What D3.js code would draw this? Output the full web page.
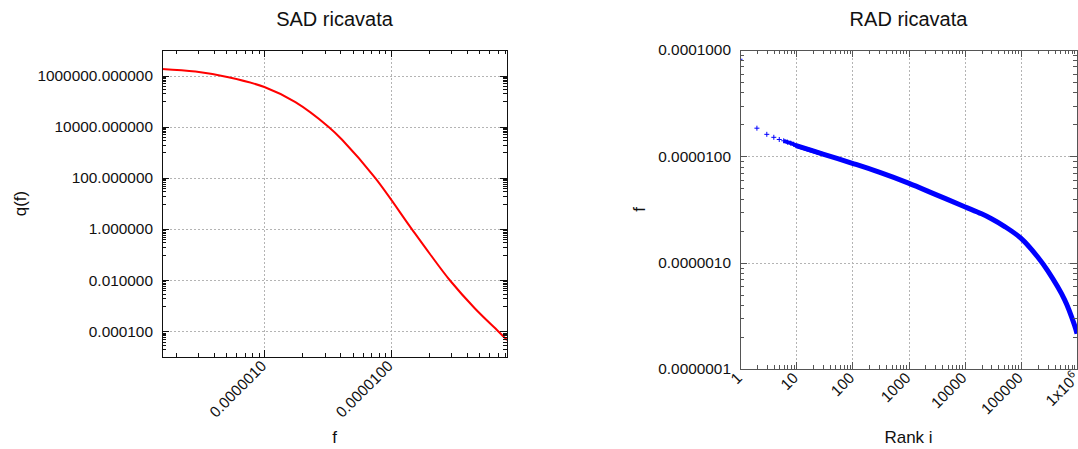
<!DOCTYPE html>
<html>
<head>
<meta charset="utf-8">
<script src="https://cdn.jsdelivr.net/npm/d3@7"></script>
<style>
  body { margin: 0; background: #fff; }
  svg { display: block; }
  text { font-family: "Liberation Sans", Arial, sans-serif; fill: #111; }
</style>
</head>
<body>
<svg id="chart" width="1078" height="449"></svg>
<script>
// ---- SAD ricavata: q(f) against abundance f ----
const sadF = [1.55e-7, 2.85e-7, 5.2e-7, 1.0e-6, 1.76e-6, 3.21e-6, 4.12e-6, 7.52e-6,
              1.466e-5, 2.04e-5, 2.93e-5, 4.63e-5, 7.1e-5, 8.3e-5];
const sadQ = [1.82e6, 1.43e6, 8.6e5, 3.56e5, 9.1e4, 1.0e4, 3.1e3, 100,
              1.0, 0.106, 0.01, 7.9e-4, 1.0e-4, 4.6e-5];

// ---- RAD ricavata: abundance f against rank i ----
const radRank = [1, 2, 3, 4, 5, 6, 7, 8, 9, 10, 30, 100, 300, 1000, 3000, 10000,
                 20000, 30000, 50000, 100000, 200000, 300000, 600000, 900000, 1000000];
const radF = [8.18e-5, 1.84e-5, 1.61e-5, 1.51e-5, 1.44e-5, 1.40e-5, 1.36e-5, 1.33e-5,
              1.30e-5, 1.26e-5, 1.05e-5, 8.6e-6, 7.1e-6, 5.6e-6, 4.39e-6, 3.36e-6,
              2.88e-6, 2.59e-6, 2.21e-6, 1.70e-6, 1.13e-6, 8.4e-7, 4.5e-7, 2.6e-7, 2.15e-7];

// Tick values and labels
const sadXTicks = [1e-6, 1e-5];
const sadXLabels = ["0.0000010", "0.0000100"];
const sadYTicks = [1e-4, 1e-2, 1, 1e2, 1e4, 1e6];
const sadYLabels = ["0.000100", "0.010000", "1.000000", "100.000000", "10000.000000", "1000000.000000"];
const radXTicks = [1, 10, 100, 1000, 1e4, 1e5, 1e6];
const radXLabels = ["1", "10", "100", "1000", "10000", "100000", "1x10^6"];
const radYTicks = [1e-7, 1e-6, 1e-5, 1e-4];
const radYLabels = ["0.0000001", "0.0000010", "0.0000100", "0.0001000"];

const svg = d3.select("#chart");

// minor ticks k*10^e inside every decade of a log domain
function decadeMinors(scale, mults) {
  const [a, b] = scale.domain();
  const lo = Math.floor(Math.log10(Math.min(a, b))), hi = Math.ceil(Math.log10(Math.max(a, b)));
  const out = [];
  for (let e = lo; e <= hi; e++) for (const k of mults) {
    const v = k * Math.pow(10, e);
    if (v >= Math.min(a, b) * 0.9999 && v <= Math.max(a, b) * 1.0001) out.push(v);
  }
  return out;
}

function panel(cfg) {
  const { x, y, id, frameColor } = cfg;
  const [x0, x1] = x.range(), [y0, y1] = y.range(); // y0 bottom, y1 top
  const g = svg.append("g");

  g.append("clipPath").attr("id", id).append("rect")
    .attr("x", x0).attr("y", y1).attr("width", x1 - x0).attr("height", y0 - y1);

  // dotted grid
  const grid = g.append("g").attr("stroke", "#b4b4b4").attr("stroke-width", 1)
    .attr("stroke-dasharray", "1.5,2.5").attr("shape-rendering", "crispEdges");
  grid.selectAll(".gx").data(cfg.gridX).join("line")
    .attr("x1", d => Math.round(x(d)) + 0.5).attr("x2", d => Math.round(x(d)) + 0.5)
    .attr("y1", y1).attr("y2", y0);
  grid.selectAll(".gy").data(cfg.gridY).join("line")
    .attr("y1", d => Math.round(y(d)) + 0.5).attr("y2", d => Math.round(y(d)) + 0.5)
    .attr("x1", x0).attr("x2", x1);

  const data = g.append("g").attr("clip-path", `url(#${id})`);
  cfg.drawData(data);

  // ticks on all four sides, pointing inwards
  const tk = g.append("g").attr("stroke", frameColor).attr("stroke-width", 1)
    .attr("shape-rendering", "crispEdges");
  const xt = [...cfg.xMajor.map(v => [v, 7]), ...cfg.xMinor.map(v => [v, 4])];
  const yt = [...cfg.yMajor.map(v => [v, 7]), ...cfg.yMinor.map(v => [v, 4])];
  xt.forEach(([v, L]) => {
    const px = Math.round(x(v)) + 0.5;
    tk.append("line").attr("x1", px).attr("x2", px).attr("y1", y0).attr("y2", y0 - L);
    tk.append("line").attr("x1", px).attr("x2", px).attr("y1", y1).attr("y2", y1 + L);
  });
  yt.forEach(([v, L]) => {
    const py = Math.round(y(v)) + 0.5;
    tk.append("line").attr("y1", py).attr("y2", py).attr("x1", x0).attr("x2", x0 + L);
    tk.append("line").attr("y1", py).attr("y2", py).attr("x1", x1).attr("x2", x1 - L);
  });

  // frame
  g.append("rect").attr("x", x0 + 0.5).attr("y", y1 + 0.5)
    .attr("width", x1 - x0).attr("height", y0 - y1)
    .attr("fill", "none").attr("stroke", frameColor).attr("stroke-width", 1)
    .attr("shape-rendering", "crispEdges");

  // y tick labels
  g.selectAll(".yl").data(cfg.yMajor).join("text")
    .attr("x", x0 - 9).attr("y", d => y(d)).attr("dy", "0.35em")
    .attr("text-anchor", "end").attr("font-size", 15.4)
    .text((d, i) => cfg.yLabels[i]);

  // rotated x tick labels
  cfg.xMajor.forEach((v, i) => {
    const lbl = cfg.xLabels[i];
    const t = g.append("text")
      .attr("transform", `translate(${x(v) + 3},${y0 + 10}) rotate(-45)`)
      .attr("text-anchor", "end").attr("font-size", 15.4);
    if (lbl.includes("^")) {
      const [base, sup] = lbl.split("^");
      t.append("tspan").text(base);
      t.append("tspan").attr("dy", -6).attr("font-size", 11).text(sup);
    } else t.text(lbl);
  });

  // titles and axis labels
  g.append("text").attr("x", (x0 + x1) / 2).attr("y", 26)
    .attr("text-anchor", "middle").attr("font-size", 20).text(cfg.title);
  g.append("text").attr("x", (x0 + x1) / 2).attr("y", 443)
    .attr("text-anchor", "middle").attr("font-size", 17).text(cfg.xTitle);
  g.append("text")
    .attr("transform", `translate(${cfg.yTitleX},${(y0 + y1) / 2}) rotate(-90)`)
    .attr("text-anchor", "middle").attr("font-size", 17).text(cfg.yTitle);
}

// ---- left panel: SAD ----
const xs = d3.scaleLog().domain([1.55e-7, 8.3e-5]).range([162, 507]);
const ys = d3.scaleLog().domain([1e-5, 1e7]).range([357, 50]);
const sadMinorY = [];
for (let e = -5; e <= 7; e += 2) for (let k = 1; k <= 9; k++) {
  const v = k * Math.pow(10, e);
  if (v >= 1e-5 && v <= 1e7) sadMinorY.push(v);
}
panel({
  id: "clipSad", x: xs, y: ys, frameColor: "#111",
  title: "SAD ricavata", xTitle: "f", yTitle: "q(f)", yTitleX: 26,
  xMajor: sadXTicks, xLabels: sadXLabels,
  xMinor: decadeMinors(xs, [2, 3, 4, 5, 6, 7, 8, 9]),
  yMajor: sadYTicks, yLabels: sadYLabels, yMinor: sadMinorY,
  gridX: sadXTicks, gridY: sadYTicks,
  drawData: g => {
    const pts = sadF.map((f, i) => [f, sadQ[i]]);
    g.append("path").datum(pts)
      .attr("fill", "none").attr("stroke", "#ff0000").attr("stroke-width", 2)
      .attr("d", d3.line().x(d => xs(d[0])).y(d => ys(d[1])).curve(d3.curveCatmullRom.alpha(0.5)));
  }
});

// ---- right panel: RAD ----
const xr = d3.scaleLog().domain([1, 1e6]).range([740, 1077]);
const yr = d3.scaleLog().domain([1e-7, 1e-4]).range([369, 50]);
panel({
  id: "clipRad", x: xr, y: yr, frameColor: "#555",
  title: "RAD ricavata", xTitle: "Rank i", yTitle: "f", yTitleX: 645,
  xMajor: radXTicks, xLabels: radXLabels,
  xMinor: decadeMinors(xr, [2, 3, 4, 5, 6, 7, 8, 9]),
  yMajor: radYTicks, yLabels: radYLabels,
  yMinor: decadeMinors(yr, [2, 3, 4, 5, 6, 7, 8, 9]),
  gridX: radXTicks, gridY: radYTicks,
  drawData: g => {
    const pts = radRank.map((r, i) => [r, radF[i]]);
    const line = d3.line().x(d => xr(d[0])).y(d => yr(d[1])).curve(d3.curveCatmullRom.alpha(0.5));
    // dense run of ranks: overlapping markers merge into a solid band
    g.append("path").datum(pts.filter(d => d[0] >= 6 && d[0] <= 30))
      .attr("fill", "none").attr("stroke", "#0000ff").attr("stroke-width", 4)
      .attr("d", line);
    g.append("path").datum(pts.filter(d => d[0] >= 10))
      .attr("fill", "none").attr("stroke", "#0000ff").attr("stroke-width", 5)
      .attr("d", line);
    // individual '+' markers for the top ranks
    g.selectAll(".pt").data(pts.filter(d => d[0] <= 10)).join("path")
      .attr("transform", d => `translate(${xr(d[0])},${yr(d[1])})`)
      .attr("d", "M-2.5,0H2.5M0,-2.5V2.5")
      .attr("stroke", "#0000ff").attr("stroke-width", 1).attr("fill", "none");
  }
});
</script>
</body>
</html>
